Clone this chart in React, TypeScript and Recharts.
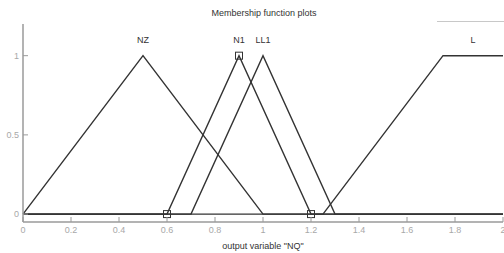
import React from "react";
import { LineChart, Line, XAxis, YAxis, ReferenceDot } from "recharts";

// membership functions of output variable "NQ", sampled at their breakpoints over [0, 2]
const nzPoints = [
  { x: 0, y: 0 },
  { x: 0.5, y: 1 },
  { x: 1, y: 0 },
  { x: 2, y: 0 },
];
const n1Points = [
  { x: 0, y: 0 },
  { x: 0.6, y: 0 },
  { x: 0.9, y: 1 },
  { x: 1.2, y: 0 },
  { x: 2, y: 0 },
];
const ll1Points = [
  { x: 0, y: 0 },
  { x: 0.7, y: 0 },
  { x: 1, y: 1 },
  { x: 1.3, y: 0 },
  { x: 2, y: 0 },
];
const lPoints = [
  { x: 0, y: 0 },
  { x: 1.25, y: 0 },
  { x: 1.75, y: 1 },
  { x: 2, y: 1 },
];

// selected MF (N1) shows its parameters as small squares
const n1Params = [0.6, 0.9, 1.2];

const mfNames = ["NZ", "N1", "LL1", "L"];
const mfLabelX = [0.5, 0.9, 1, 1.875];
const mfLabelY = 1.1;

const xTicks = [0, 0.2, 0.4, 0.6, 0.8, 1, 1.2, 1.4, 1.6, 1.8, 2];
const yTicks = [0, 0.5, 1];

const FONT = "'Liberation Sans', Arial, sans-serif";
const AXIS = "#9a9a9a";
const TICK_TEXT = "#a8a8a8";
const INK = "#333";
const TICK_LEN = 5;

function BottomTick(props: any) {
  const { x, y, payload } = props;
  return (
    <g>
      <line x1={x} y1={y} x2={x} y2={y - TICK_LEN} stroke={AXIS} strokeWidth={1} />
      <text x={x} y={y + 11} textAnchor="middle" fontSize={9} fill={TICK_TEXT} fontFamily={FONT}>
        {payload.value}
      </text>
    </g>
  );
}

function TopTick(props: any) {
  const { x, y } = props;
  return <line x1={x} y1={y} x2={x} y2={y + TICK_LEN} stroke={AXIS} strokeWidth={1} />;
}

function LeftTick(props: any) {
  const { x, y, payload } = props;
  return (
    <g>
      <line x1={x} y1={y} x2={x + TICK_LEN} y2={y} stroke={AXIS} strokeWidth={1} />
      <text x={x - 4} y={y + 3} textAnchor="end" fontSize={9} fill={TICK_TEXT} fontFamily={FONT}>
        {payload.value}
      </text>
    </g>
  );
}

function RightTick(props: any) {
  const { x, y } = props;
  return <line x1={x} y1={y} x2={x - TICK_LEN} y2={y} stroke={AXIS} strokeWidth={1} />;
}

function ParamSquare(props: any) {
  const { cx, cy, payload, index } = props;
  if (!n1Params.includes(payload.x)) return <g key={`d${index}`} />;
  return <rect key={`d${index}`} x={cx - 3.5} y={cy - 3.5} width={7} height={7} fill="none" stroke={INK} strokeWidth={1} />;
}

const series = [
  { name: "NZ", data: nzPoints },
  { name: "N1", data: n1Points },
  { name: "LL1", data: ll1Points },
  { name: "L", data: lPoints },
];

export default function App() {
  document.body.style.margin = "0";
  return (
    <div style={{ position: "relative", width: 504, height: 253, overflow: "hidden", background: "#fff", fontFamily: FONT }}>
      <div
        style={{
          position: "absolute",
          left: 0,
          right: 0,
          top: 8,
          textAlign: "center",
          paddingLeft: 24,
          fontSize: 9,
          color: INK,
        }}
      >
        Membership function plots
      </div>
      <div style={{ position: "absolute", left: 437, top: 21, width: 70, height: 1, background: "#c8c8c8" }} />
      <LineChart
        width={504}
        height={253}
        margin={{ top: 24, right: 1, bottom: 0, left: 0 }}
        style={{ position: "absolute", left: 0, top: 0 }}
      >
        <XAxis
          xAxisId="b"
          type="number"
          dataKey="x"
          domain={[0, 2]}
          ticks={xTicks}
          interval={0}
          height={31}
          tickLine={false}
          tickSize={0}
          tickMargin={0}
          tick={<BottomTick />}
          axisLine={{ stroke: AXIS, strokeWidth: 1.5 }}
          label={{ value: 'output variable "NQ"', position: "insideBottom", offset: 4, fontSize: 9, fill: INK, fontFamily: FONT }}
        />
        <XAxis
          xAxisId="t"
          orientation="top"
          type="number"
          dataKey="x"
          domain={[0, 2]}
          ticks={xTicks}
          interval={0}
          height={0}
          tickLine={false}
          tickSize={0}
          tickMargin={0}
          tick={<TopTick />}
          axisLine={{ stroke: AXIS, strokeWidth: 1.5 }}
        />
        <YAxis
          yAxisId="l"
          type="number"
          domain={[-0.05, 1.2]}
          ticks={yTicks}
          interval={0}
          width={23}
          tickLine={false}
          tickSize={0}
          tickMargin={0}
          tick={<LeftTick />}
          axisLine={{ stroke: AXIS, strokeWidth: 1.5 }}
        />
        <YAxis
          yAxisId="r"
          orientation="right"
          type="number"
          domain={[-0.05, 1.2]}
          ticks={yTicks}
          interval={0}
          width={0}
          tickLine={false}
          tickSize={0}
          tickMargin={0}
          tick={<RightTick />}
          axisLine={{ stroke: AXIS, strokeWidth: 1.5 }}
        />
        {series.map((s) => (
          <Line
            key={s.name}
            xAxisId="b"
            yAxisId="l"
            data={s.data}
            dataKey="y"
            type="linear"
            stroke={INK}
            strokeWidth={1.4}
            dot={s.name === "N1" ? <ParamSquare /> : false}
            activeDot={false}
            isAnimationActive={false}
          />
        ))}
        {mfNames.map((name, i) => (
          <ReferenceDot
            key={name}
            xAxisId="b"
            yAxisId="l"
            x={mfLabelX[i]}
            y={mfLabelY}
            r={0}
            stroke="none"
            label={{ value: name, position: "center", fontSize: 9, fill: INK, fontFamily: FONT }}
          />
        ))}
      </LineChart>
    </div>
  );
}
